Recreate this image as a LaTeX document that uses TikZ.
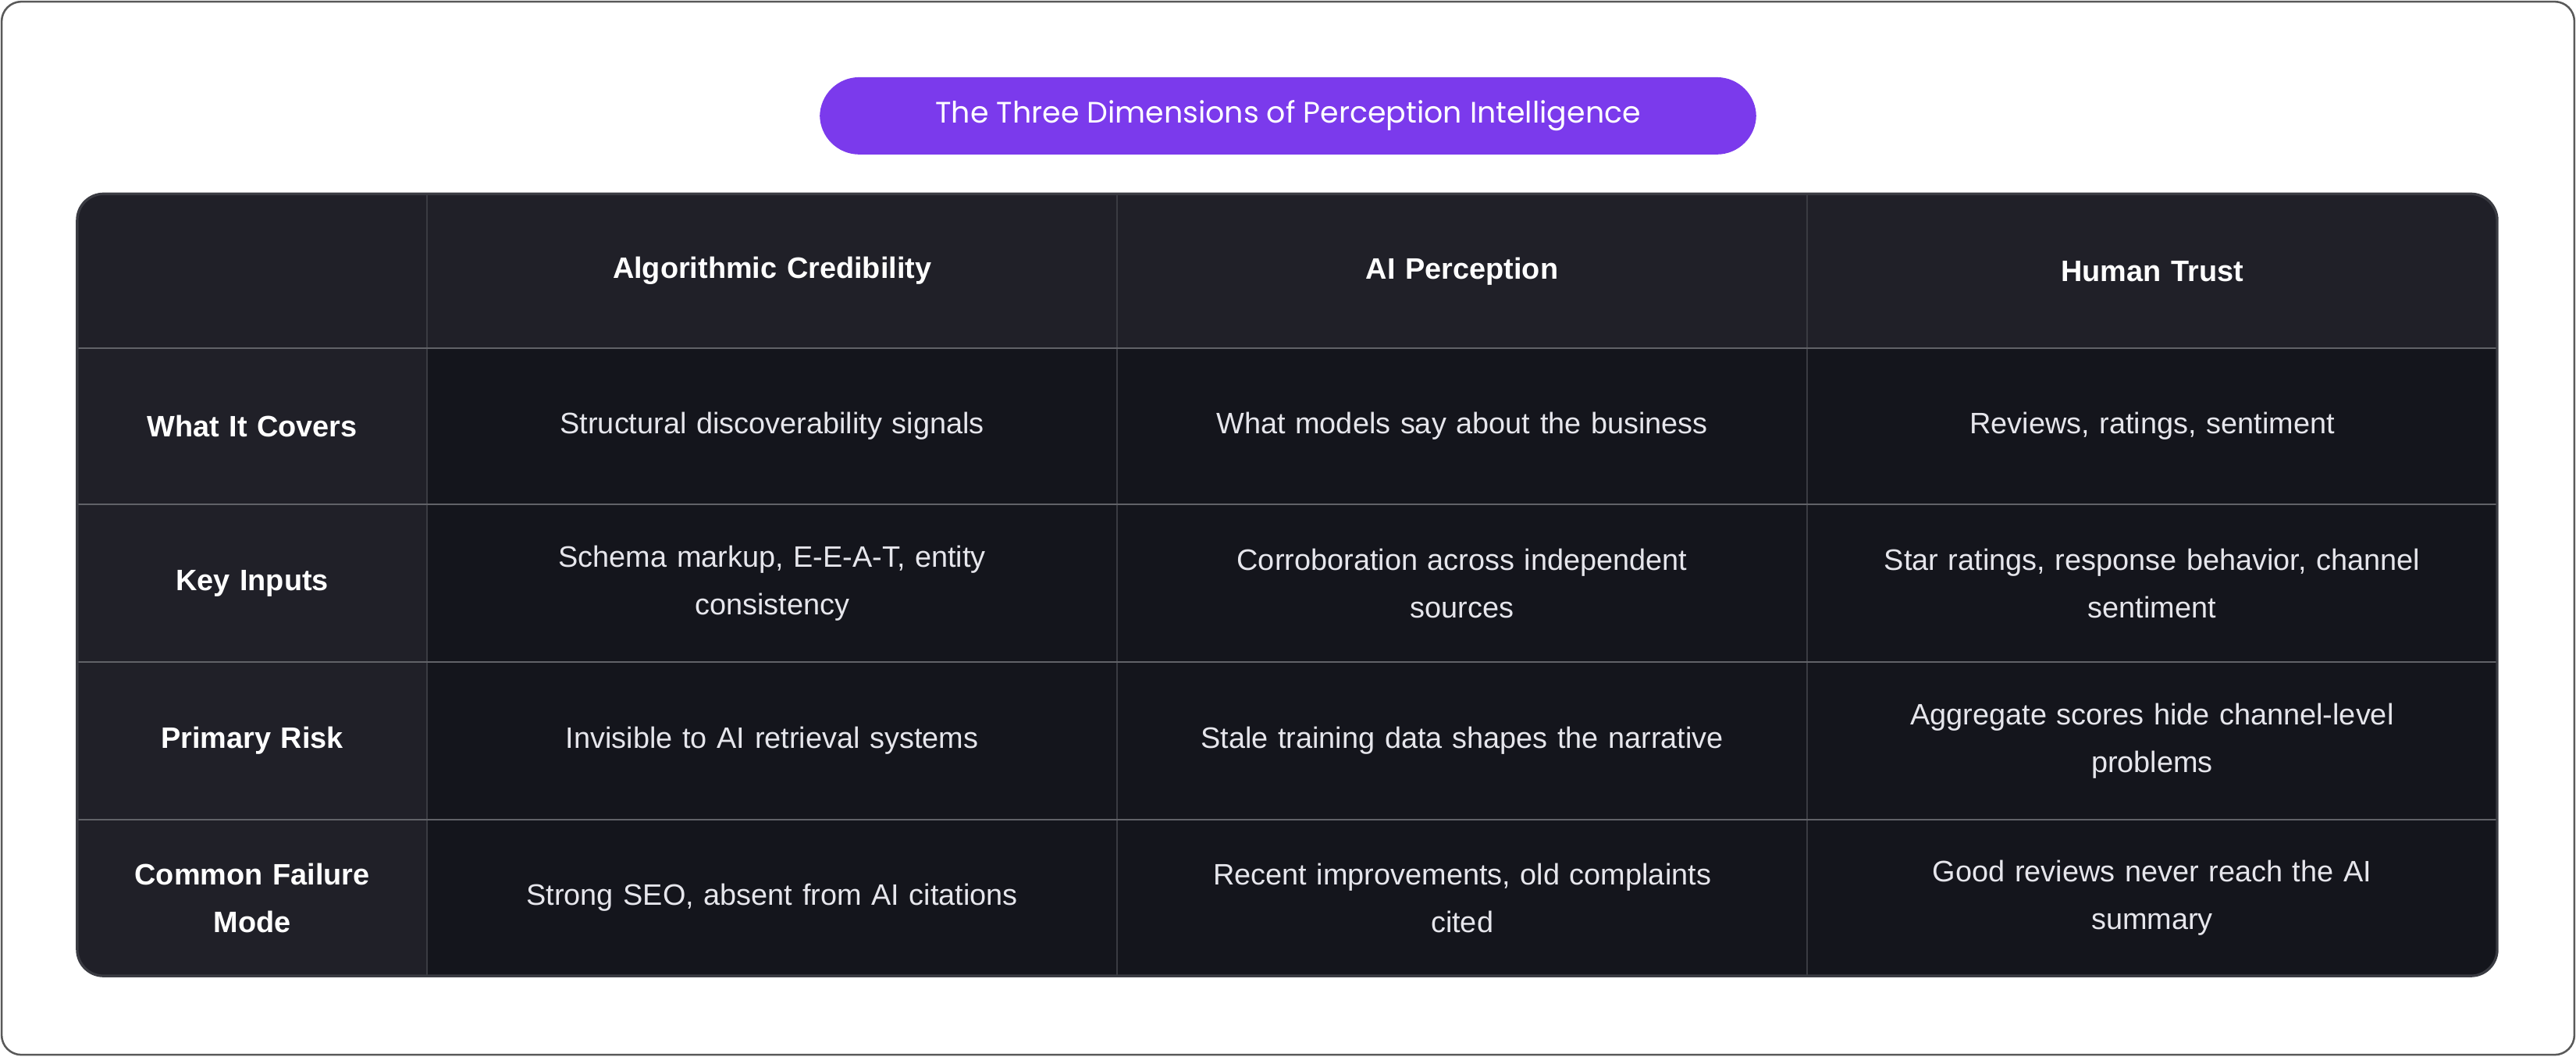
\documentclass[tikz,border=0pt]{standalone}
\usepackage{fontspec}
\setmainfont{Liberation Sans}
\newfontfamily\titlefont{Poppins}
\usepackage{tikz}
\definecolor{pillviolet}{HTML}{7B3AEC}
\definecolor{headgray}{HTML}{202028}
\definecolor{bodygray}{HTML}{14151C}
\definecolor{gridgray}{HTML}{3A3B42}
\definecolor{celltext}{HTML}{E6E6EC}
\tikzset{
  cell/.style={text=celltext, align=center, text width=185pt, font=\fontsize{9}{14.5}\selectfont},
  head/.style={cell, text=white, font=\bfseries\fontsize{9}{14.5}\selectfont},
  rowhead/.style={head, text width=95pt}
}

\begin{document}
\begin{tikzpicture}[x=0.5pt,y=-0.5pt]
\useasboundingbox (0,0) rectangle (1568,643);
\draw [gray!70!black, fill=white, rounded corners=6pt, line width=0.6pt] (1,1) rectangle (1567,642);
% title
\node (title) [fill=pillviolet, rounded corners=12pt, minimum width=285pt, minimum height=23.5pt,
  text=white, font=\titlefont\fontsize{9}{11}\selectfont] at (784,70.5) {The Three Dimensions of Perception Intelligence};
% table
\begin{scope}
\clip [rounded corners=8pt] (47,118) rectangle (1520,594);
\fill [bodygray] (47,118) rectangle (1520,594);
\fill [headgray] (47,118) rectangle (1520,212);
\fill [headgray] (47,118) rectangle (260,594);
\foreach \x in {260,680,1100}
  \draw [gridgray, line width=0.6pt] (\x,118) -- (\x,594);
\foreach \y in {212,307,403,499}
  \draw [gridgray!80!white, line width=0.6pt] (47,\y) -- (1520,\y);
\end{scope}
\draw [gridgray, rounded corners=8pt, line width=0.8pt] (47,118) rectangle (1520,594);
% header row
\node (hAlg) [head] at (470,165) {Algorithmic Credibility};
\node (hAI) [head] at (890,165) {AI Perception};
\node (hHum) [head] at (1310,165) {Human Trust};
% row heads
\node (rCov) [rowhead] at (153.5,259.5) {What It Covers};
\node (rInp) [rowhead] at (153.5,355) {Key Inputs};
\node (rRisk) [rowhead] at (153.5,451) {Primary Risk};
\node (rFail) [rowhead] at (153.5,546.5) {Common Failure\\Mode};
% cells
\node (cAlgCov) [cell] at (470,259.5) {Structural discoverability signals};
\node (cAICov) [cell] at (890,259.5) {What models say about the business};
\node (cHumCov) [cell] at (1310,259.5) {Reviews, ratings, sentiment};
\node (cAlgInp) [cell] at (470,355) {Schema markup, E-E-A-T, entity\\consistency};
\node (cAIInp) [cell] at (890,355) {Corroboration across independent\\sources};
\node (cHumInp) [cell] at (1310,355) {Star ratings, response behavior, channel\\sentiment};
\node (cAlgRisk) [cell] at (470,451) {Invisible to AI retrieval systems};
\node (cAIRisk) [cell] at (890,451) {Stale training data shapes the narrative};
\node (cHumRisk) [cell] at (1310,451) {Aggregate scores hide channel-level\\problems};
\node (cAlgFail) [cell] at (470,546.5) {Strong SEO, absent from AI citations};
\node (cAIFail) [cell] at (890,546.5) {Recent improvements, old complaints\\cited};
\node (cHumFail) [cell] at (1310,546.5) {Good reviews never reach the AI\\summary};
\end{tikzpicture}
\end{document}
